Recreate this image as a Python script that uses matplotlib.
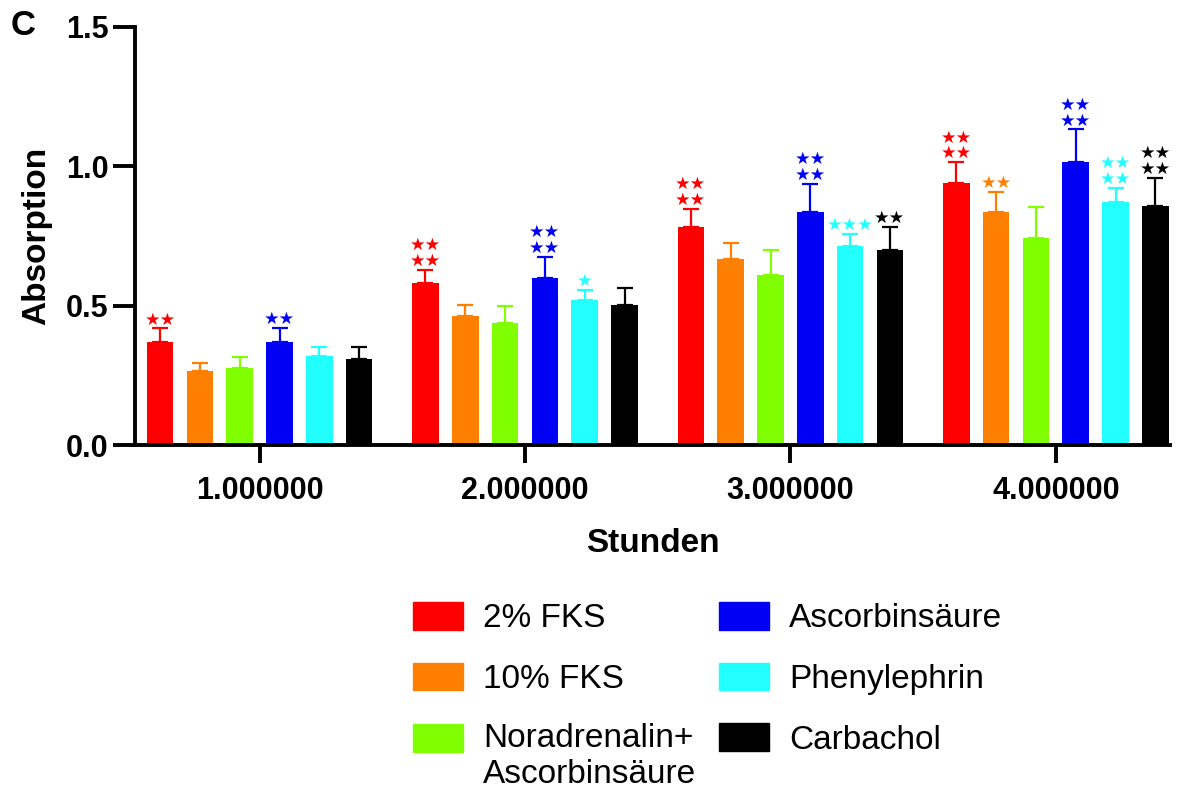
import numpy as np
import matplotlib
matplotlib.use("Agg")
import matplotlib.pyplot as plt
from matplotlib.patches import Patch, Rectangle
from matplotlib.legend_handler import HandlerPatch

plt.rcParams['font.family'] = ['Liberation Sans', 'DejaVu Sans']

# Time points (hours)
stunden = [1, 2, 3, 4]
tick_labels = ["1.000000", "2.000000", "3.000000", "4.000000"]

# Mean absorption per treatment
fks2 = [0.371, 0.582, 0.782, 0.939]
fks10 = [0.264, 0.464, 0.668, 0.836]
nor_asc = [0.275, 0.439, 0.611, 0.743]
asc = [0.368, 0.600, 0.836, 1.014]
phe = [0.318, 0.521, 0.714, 0.871]
carb = [0.307, 0.504, 0.700, 0.857]

# Upper error (SEM)
fks2_err = [0.047, 0.047, 0.064, 0.075]
fks10_err = [0.029, 0.040, 0.057, 0.071]
nor_asc_err = [0.039, 0.061, 0.089, 0.111]
asc_err = [0.053, 0.075, 0.100, 0.118]
phe_err = [0.032, 0.036, 0.043, 0.050]
carb_err = [0.043, 0.060, 0.082, 0.100]

# Number of significance stars above each bar
fks2_sig = [2, 4, 4, 4]
fks10_sig = [0, 0, 0, 2]
nor_asc_sig = [0, 0, 0, 0]
asc_sig = [2, 4, 4, 4]
phe_sig = [0, 1, 3, 4]
carb_sig = [0, 0, 2, 4]

labels = ["2% FKS", "10% FKS", "Noradrenalin+\nAscorbinsäure",
          "Ascorbinsäure", "Phenylephrin", "Carbachol"]
colors = ["#ff0000", "#ff8000", "#80ff00", "#0000f5", "#22ffff", "#000000"]

series = [fks2, fks10, nor_asc, asc, phe, carb]
errors = [fks2_err, fks10_err, nor_asc_err, asc_err, phe_err, carb_err]
sigs = [fks2_sig, fks10_sig, nor_asc_sig, asc_sig, phe_sig, carb_sig]


def star_text(n):
    if n == 4:
        return "★★\n★★"
    return "★" * n


def first_line_patch(legend, orig_handle, xdescent, ydescent, width, height, fontsize):
    # put the swatch next to the first line of a two-line label
    return Rectangle((-xdescent, -ydescent + 0.58 * fontsize), width, height)


fig = plt.figure(figsize=(11.83, 7.91), dpi=100)
ax = fig.add_axes([0.114, 0.4374, 0.875, 0.5286])

x = np.array(stunden, dtype=float)
step = 0.15
width = 0.10
for i, (vals, err, sig, c) in enumerate(zip(series, errors, sigs, colors)):
    pos = x + (i - 2.5) * step
    ax.bar(pos, vals, width=width, color=c, zorder=2)
    ax.errorbar(pos, vals, yerr=[np.zeros(len(err)), err], fmt='none',
                ecolor=c, elinewidth=1.6, capsize=5.5, capthick=1.6, zorder=3)
    for p, v, e, n in zip(pos, vals, err, sig):
        if n:
            ax.annotate(star_text(n), xy=(p, v + e), xytext=(0, 0),
                        textcoords='offset points', ha='center', va='bottom',
                        color=c, fontsize=12.5, family=['DejaVu Sans'],
                        linespacing=0.85)

ax.set_xlim(0.53, 4.43)
ax.set_ylim(0, 1.5)
ax.set_yticks([0, 0.5, 1.0, 1.5])
ax.set_yticklabels(["0.0", "0.5", "1.0", "1.5"])
ax.set_xticks(stunden)
ax.set_xticklabels(tick_labels)

for side in ['top', 'right']:
    ax.spines[side].set_visible(False)
for side in ['left', 'bottom']:
    ax.spines[side].set_linewidth(2.8)
ax.tick_params(axis='y', length=16, width=2.8, pad=3, labelsize=22)
ax.tick_params(axis='x', length=13, width=2.8, pad=9, labelsize=22)
for lbl in ax.get_xticklabels() + ax.get_yticklabels():
    lbl.set_fontweight('bold')

ax.set_ylabel("Absorption", fontsize=24, fontweight='bold')
ax.yaxis.set_label_coords(-0.080, 0.5)
ax.set_xlabel("Stunden", fontsize=24, fontweight='bold', labelpad=16)

fig.text(0.009, 0.968, "C", fontsize=25, fontweight='bold', va='center')

handles = [Patch(facecolor=c, edgecolor=c) for c in colors]
fig.legend(handles, labels, ncol=2, loc='upper left',
           bbox_to_anchor=(0.335, 0.26), frameon=False, fontsize=24,
           handlelength=1.5, handleheight=0.9, handletextpad=0.6,
           columnspacing=0.7, labelspacing=0.85, borderpad=0,
           handler_map={handles[2]: HandlerPatch(patch_func=first_line_patch)})

fig.savefig("out.png", dpi=100)
